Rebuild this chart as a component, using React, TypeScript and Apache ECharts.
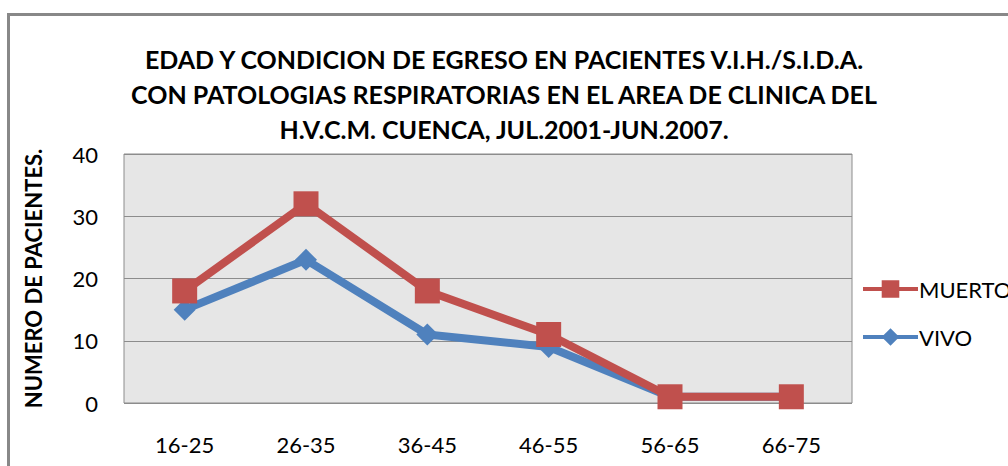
import React, { useEffect, useRef } from "react";
import * as echarts from "echarts";

const categories = ["16-25", "26-35", "36-45", "46-55", "56-65", "66-75"];
const muerto = [18, 32, 18, 11, 1, 1];
const vivo = [15, 23, 11, 9, 1, 1];
const titleLines = [
  "EDAD Y CONDICION DE EGRESO EN PACIENTES V.I.H./S.I.D.A.",
  "CON PATOLOGIAS RESPIRATORIAS EN EL AREA DE CLINICA DEL",
  "H.V.C.M. CUENCA, JUL.2001-JUN.2007.",
];

export default function App() {
  const ref = useRef<HTMLDivElement>(null);
  useEffect(() => {
    if (!ref.current) return;
    const chart = echarts.init(ref.current, undefined, { renderer: "svg" });
    const font = "Lato, 'Open Sans', sans-serif";
    chart.setOption({
      animation: false,
      backgroundColor: "#ffffff",
      title: {
        text: titleLines.join("\n"),
        left: "center",
        top: 36,
        textStyle: {
          fontFamily: font,
          fontWeight: "bold",
          fontSize: 25,
          lineHeight: 35,
          color: "#000",
        },
      },
      graphic: [
        {
          type: "rect",
          shape: { x: 8.5, y: 14.5, width: 1100, height: 600 },
          style: { fill: "none", stroke: "#888888", lineWidth: 3 },
          silent: true,
        },
      ],
      legend: {
        orient: "vertical",
        left: 856,
        top: 273,
        itemWidth: 55,
        itemHeight: 22,
        itemGap: 26,
        lineStyle: { width: 4 },
        textStyle: { fontFamily: font, fontSize: 22, color: "#000", padding: [0, 0, 0, -4] },
        data: ["MUERTO", "VIVO"],
      },
      grid: {
        left: 124,
        right: 156,
        top: 154,
        bottom: 63,
        show: true,
        backgroundColor: "#E6E6E6",
        borderColor: "#8C8C8C",
        borderWidth: 1,
      },
      xAxis: {
        type: "category",
        data: categories,
        boundaryGap: true,
        axisLine: { show: false },
        axisTick: { show: false },
        axisLabel: { fontFamily: font, fontSize: 22, color: "#000", margin: 30 },
        splitLine: { show: false },
      },
      yAxis: {
        type: "value",
        min: 0,
        max: 40,
        interval: 10,
        name: "NUMERO DE PACIENTES.",
        nameLocation: "middle",
        nameGap: 80,
        nameTextStyle: { fontFamily: font, fontWeight: "bold", fontSize: 22, color: "#000" },
        axisLine: { show: false },
        axisTick: { show: false },
        axisLabel: { fontFamily: font, fontSize: 22, color: "#000", margin: 26 },
        splitLine: { lineStyle: { color: "#8C8C8C", width: 1 } },
      },
      series: [
        {
          name: "MUERTO",
          type: "line",
          data: muerto,
          symbol: "rect",
          symbolSize: 25,
          z: 3,
          lineStyle: { color: "#C0504D", width: 8 },
          itemStyle: { color: "#C0504D" },
        },
        {
          name: "VIVO",
          type: "line",
          data: vivo,
          symbol: "diamond",
          symbolSize: 22,
          z: 2,
          lineStyle: { color: "#4F81BD", width: 8 },
          itemStyle: { color: "#4F81BD" },
        },
      ],
    });
    return () => chart.dispose();
  }, []);
  return <div ref={ref} style={{ width: 1008, height: 466, position: "absolute", left: 0, top: 0 }} />;
}
